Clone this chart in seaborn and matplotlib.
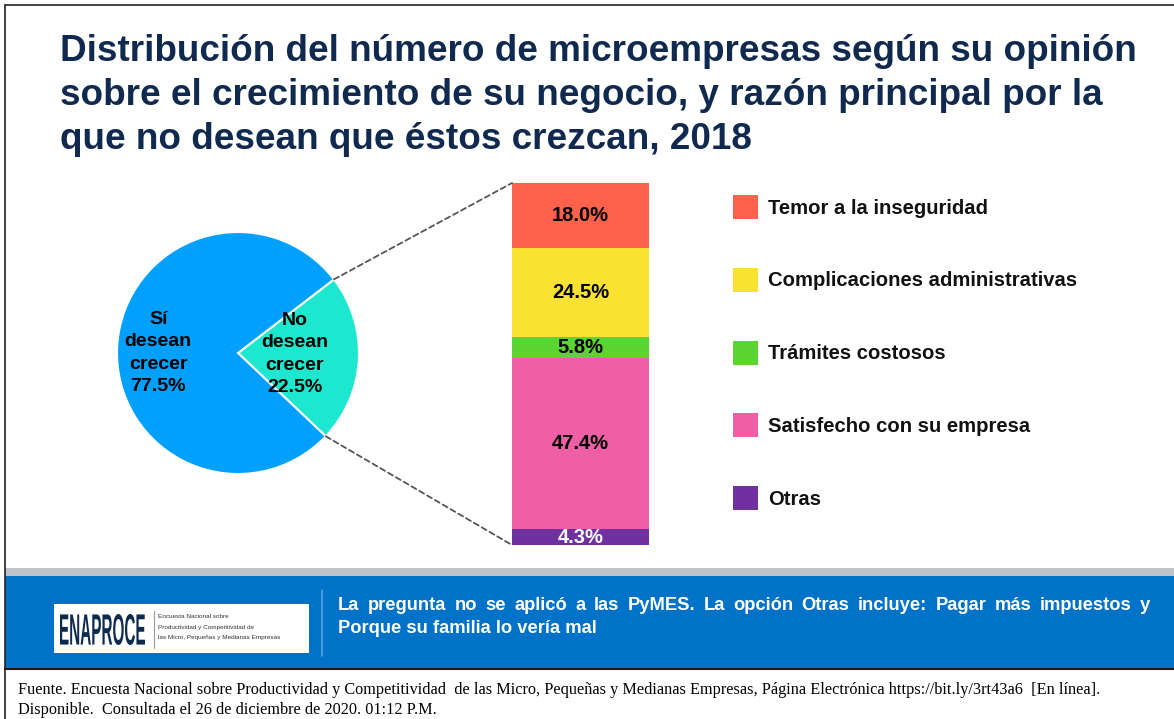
import numpy as np
import pandas as pd
import matplotlib
matplotlib.use("Agg")
import matplotlib.pyplot as plt
import seaborn as sns
from matplotlib.patches import Rectangle, ConnectionPatch, PathPatch
from matplotlib.textpath import TextPath
from matplotlib.font_manager import FontProperties
from matplotlib.transforms import Affine2D

# ──────────────────────────────────────────────
# DATA
# ──────────────────────────────────────────────
pie_labels = ["No\ndesean\ncrecer", "Sí\ndesean\ncrecer"]
pie_values = [22.5, 77.5]
pie_colors = ["#1DE8CF", "#00A0FF"]

reasons = ["Temor a la inseguridad", "Complicaciones administrativas",
           "Trámites costosos", "Satisfecho con su empresa", "Otras"]
reason_values = [18.0, 24.5, 5.8, 47.4, 4.3]
reason_colors = ["#FF614B", "#F9E232", "#5BD532", "#EE5FA6", "#7030A0"]
reason_text_colors = ["black", "black", "black", "black", "white"]

title_lines = ["Distribución del número de microempresas según su opinión",
               "sobre el crecimiento de su negocio, y razón principal por la",
               "que no desean que éstos crezcan, 2018"]
note_lines = ["La pregunta no se aplicó a las PyMES. La opción Otras incluye: Pagar más impuestos y",
              "Porque su familia lo vería mal"]
source_lines = ["Fuente. Encuesta Nacional sobre Productividad y Competitividad  de las Micro, Pequeñas y "
                "Medianas Empresas, Página Electrónica https://bit.ly/3rt43a6  [En línea].",
                "Disponible.  Consultada el 26 de diciembre de 2020. 01:12 P.M."]

sns.set_theme(style="white")
plt.rcParams["font.family"] = ["Liberation Sans", "DejaVu Sans"]

W, H = 1174, 719
fig = plt.figure(figsize=(W / 100, H / 100), dpi=100)
fig.patch.set_facecolor("white")
renderer = fig.canvas.get_renderer()

# background axes in pixel coordinates
bg = fig.add_axes([0, 0, 1, 1])
bg.set_xlim(0, W); bg.set_ylim(H, 0); bg.axis("off")


def justified(ax, words_line, x0, x1, y, **kw):
    """Place the words of one line so that it fills x0..x1 (justified)."""
    words = words_line.split()
    arts = [ax.text(0, y, w, va="baseline", ha="left", **kw) for w in words]
    widths = [a.get_window_extent(renderer).width for a in arts]
    gap = (x1 - x0 - sum(widths)) / (len(words) - 1)
    x = x0
    for a, w in zip(arts, widths):
        a.set_x(x)
        x += w + gap


# frame lines, footer band
bg.plot([5, W], [5, 5], color="#222222", lw=1.2)
bg.plot([5, 5], [5, H], color="#222222", lw=1.2)
bg.add_patch(Rectangle((5, 568), W - 5, 8, color="#BFC4C9", lw=0))
bg.add_patch(Rectangle((5, 576), W - 5, 92, color="#0072C8", lw=0))
bg.plot([5, W], [669, 669], color="#1A1A1A", lw=1.5)
bg.plot([322, 322], [590, 656], color="#5A9EDB", lw=1.2)

for i, line in enumerate(title_lines):
    bg.text(60, 61 + i * 44, line, fontsize=26.6, fontweight="bold", color="#10294F",
            va="baseline", ha="left")

# logo
bg.add_patch(Rectangle((54, 604), 255, 49, color="white", lw=0))
tp = TextPath((0, 0), "ENAPROCE", size=1,
              prop=FontProperties(family="Liberation Sans", weight="bold"))
ext = tp.get_extents()
tr = Affine2D().translate(-ext.x0, -ext.y0).scale(85 / ext.width, -31 / ext.height).translate(60, 645)
bg.add_patch(PathPatch(tp, transform=tr + bg.transData, color="#0E2A4E", lw=0))
bg.plot([154, 154], [611, 648], color="#999999", lw=0.8)
for i, line in enumerate(["Encuesta Nacional sobre", "Productividad y Competitividad de",
                          "las Micro, Pequeñas y Medianas Empresas"]):
    bg.text(158, 617 + i * 10, line, fontsize=4.6, color="#333333", va="center")

note_kw = dict(fontsize=13.2, fontweight="bold", color="white")
justified(bg, note_lines[0], 338, 1150, 610, **note_kw)
bg.text(338, 633, note_lines[1], va="baseline", ha="left", **note_kw)

src_kw = dict(fontsize=11.7, color="black", family="Liberation Serif")
bg.text(18, 694, source_lines[0], va="baseline", ha="left", **src_kw)
bg.text(18, 714, source_lines[1], va="baseline", ha="left", **src_kw)

# ──────────────────────────────────────────────
# PIE
# ──────────────────────────────────────────────
cx, cy, r = 238, 353, 121
pie_ax = fig.add_axes([(cx - r) / W, 1 - (cy + r) / H, 2 * r / W, 2 * r / H])
start = -43.5
pie_ax.pie(pie_values, colors=pie_colors, startangle=start, counterclock=True,
           wedgeprops=dict(edgecolor="white", linewidth=1.5))
pie_ax.set_xlim(-1, 1); pie_ax.set_ylim(-1, 1)
pie_ax.text(0.47, -0.01, f"{pie_labels[0]}\n{pie_values[0]:.1f}%", ha="center", va="center",
            fontsize=14, fontweight="bold", color="black", linespacing=1.42)
pie_ax.text(-0.66, 0.0, f"{pie_labels[1]}\n{pie_values[1]:.1f}%", ha="center", va="center",
            fontsize=14, fontweight="bold", color="black", linespacing=1.42)

# ──────────────────────────────────────────────
# STACKED BAR (layered cumulative bars)
# ──────────────────────────────────────────────
bar_ax = fig.add_axes([512 / W, 1 - 545 / H, 137 / W, 362 / H])
vals_bottom_up = reason_values[::-1]
cols_bottom_up = reason_colors[::-1]
cum = np.cumsum(vals_bottom_up)
df = pd.DataFrame({"grupo": ["No desean"] * len(cum), "cum": cum})
for i in range(len(cum) - 1, -1, -1):
    sns.barplot(data=df.iloc[[i]], x="grupo", y="cum", color=cols_bottom_up[i],
                saturation=1, width=1, linewidth=0, ax=bar_ax)
bar_ax.set_xlim(-0.5, 0.5); bar_ax.set_ylim(0, 100)
bar_ax.axis("off")
txt_bottom_up = reason_text_colors[::-1]
for i, v in enumerate(vals_bottom_up):
    mid = cum[i] - v / 2
    bar_ax.text(0, mid, f"{v:.1f}%", ha="center", va="center", fontsize=14.5,
                fontweight="bold", color=txt_bottom_up[i])

# dashed connectors
a1 = np.deg2rad(start + 360 * pie_values[0] / 100)
a0 = np.deg2rad(start)
for ang, yb in [(a1, 100), (a0, 0)]:
    con = ConnectionPatch(xyA=(np.cos(ang), np.sin(ang)), coordsA="data", axesA=pie_ax,
                          xyB=(0, yb), coordsB=bar_ax.get_yaxis_transform(),
                          color="#555555", lw=1.3, linestyle=(0, (3, 2)))
    fig.add_artist(con)

# legend
for i, (lab, c) in enumerate(zip(reasons, reason_colors)):
    y = 207 + i * 72.8
    bg.add_patch(Rectangle((733, y - 12), 25, 24, color=c, lw=0))
    bg.text(768, y + 1, lab, fontsize=14.6, fontweight="bold", color="#111111", va="center")

fig.savefig("out.png", dpi=100)
